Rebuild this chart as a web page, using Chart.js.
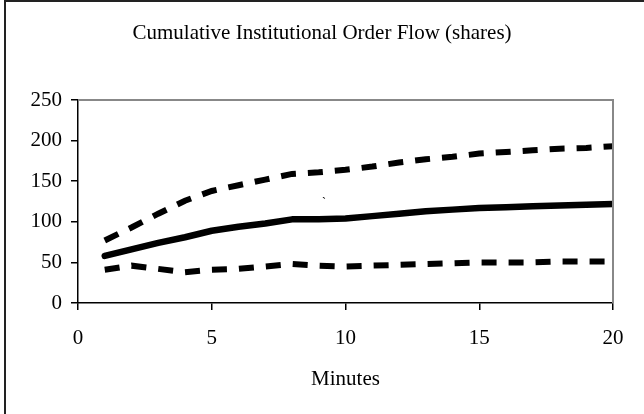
<!DOCTYPE html>
<html>
<head>
<meta charset="utf-8">
<script src="https://cdn.jsdelivr.net/npm/chart.js@4/dist/chart.umd.min.js"></script>
<style>
  html, body { margin: 0; padding: 0; background: #fff; }
  #wrap { width: 644px; height: 414px; position: relative; }
</style>
</head>
<body>
<div id="wrap"><canvas id="c" width="644" height="414"></canvas></div>
<script>
// Minutes after the order arrives
const minutes = [1, 2, 3, 4, 5, 6, 7, 8, 9, 10, 11, 12, 13, 14, 15, 16, 17, 18, 19, 20];
// Cumulative order flow estimate and its upper / lower bands (shares)
const flowEstimate = [58, 66, 74, 81, 89, 94, 98, 103, 103, 104, 107, 110, 113, 115, 117, 118, 119, 120, 121, 122];
const flowUpper    = [77, 93, 110, 126, 138, 145, 152, 159, 161, 164, 168, 173, 177, 180, 184, 186, 188, 190, 191, 193];
const flowLower    = [41, 46, 42, 38, 41, 42, 45, 48, 46, 45, 46, 47, 48, 49, 50, 50, 50, 51, 51, 51];
const yTicks = [0, 50, 100, 150, 200, 250];
const xTicks = [0, 5, 10, 15, 20];

const serif = "'Liberation Serif', 'DejaVu Serif', serif";
const fontSize = 21;
const pts = arr => minutes.map((m, i) => ({ x: m, y: arr[i] }));

// Page frame, plot box (grey top/right edges) and a stray backtick mark
const framePlugin = {
  id: 'frame',
  beforeDraw(chart) {
    const ctx = chart.ctx;
    ctx.save();
    ctx.fillStyle = '#fff';
    ctx.fillRect(0, 0, chart.width, chart.height);
    ctx.strokeStyle = '#222';
    ctx.lineWidth = 2;
    ctx.beginPath();
    ctx.moveTo(5, chart.height + 5);
    ctx.lineTo(5, 1);
    ctx.lineTo(chart.width + 5, 1);
    ctx.stroke();
    ctx.restore();
  },
  afterDatasetsDraw(chart) {
    const a = chart.chartArea;
    const ctx = chart.ctx;
    ctx.save();
    ctx.strokeStyle = '#888';
    ctx.lineWidth = 2;
    ctx.beginPath();
    ctx.moveTo(a.left, a.top);
    ctx.lineTo(a.right, a.top);
    ctx.lineTo(a.right, a.bottom);
    ctx.stroke();
    ctx.fillStyle = '#000';
    ctx.font = '12px ' + serif;
    ctx.textAlign = 'center';
    ctx.textBaseline = 'middle';
    const xs = chart.scales.x, ys = chart.scales.y;
    ctx.fillText('`', xs.getPixelForValue(9.2), ys.getPixelForValue(123));
    ctx.restore();
  }
};

new Chart(document.getElementById('c'), {
  type: 'line',
  data: {
    datasets: [
      { data: pts(flowUpper), borderColor: '#000', borderWidth: 6, borderDash: [15, 12], borderCapStyle: 'butt', pointRadius: 0, tension: 0 },
      { data: pts(flowEstimate), borderColor: '#000', borderWidth: 6.5, borderCapStyle: 'round', borderJoinStyle: 'round', pointRadius: 0, tension: 0 },
      { data: pts(flowLower), borderColor: '#000', borderWidth: 6, borderDash: [15, 12], borderCapStyle: 'butt', pointRadius: 0, tension: 0 }
    ]
  },
  options: {
    responsive: false,
    animation: false,
    events: [],
    layout: { padding: 0 },
    plugins: {
      legend: { display: false },
      tooltip: { enabled: false },
      title: {
        display: true,
        text: 'Cumulative Institutional Order Flow (shares)',
        color: '#000',
        font: { family: serif, size: fontSize, weight: 'normal' },
        padding: { top: 20.4, bottom: 54.4 }
      }
    },
    scales: {
      x: {
        type: 'linear',
        min: 0, max: 20,
        afterBuildTicks: s => { s.ticks = xTicks.map(v => ({ value: v })); },
        afterFit: s => { s.height = 111; },
        ticks: { color: '#000', font: { family: serif, size: fontSize }, padding: 16, maxRotation: 0 },
        grid: { drawOnChartArea: false, drawTicks: true, tickLength: 7, color: '#000', lineWidth: 1.5 },
        border: { color: '#000', width: 1.5 },
        title: {
          display: true, text: 'Minutes', color: '#000',
          font: { family: serif, size: fontSize },
          padding: { top: 0, bottom: 22 }
        }
      },
      y: {
        type: 'linear',
        min: 0, max: 250,
        afterBuildTicks: s => { s.ticks = yTicks.map(v => ({ value: v })); },
        afterFit: s => { s.width = 78; },
        ticks: { color: '#000', font: { family: serif, size: fontSize }, padding: 9 },
        grid: { drawOnChartArea: false, drawTicks: true, tickLength: 7, color: '#000', lineWidth: 1.5 },
        border: { color: '#000', width: 1.5 }
      },
      // empty right-hand margin so the plot box ends short of the page edge
      yMargin: {
        type: 'linear',
        position: 'right',
        min: 0, max: 250,
        afterFit: s => { s.width = 31; },
        ticks: { display: false },
        grid: { display: false, drawTicks: false },
        border: { display: false }
      }
    }
  },
  plugins: [framePlugin]
});
</script>
</body>
</html>
